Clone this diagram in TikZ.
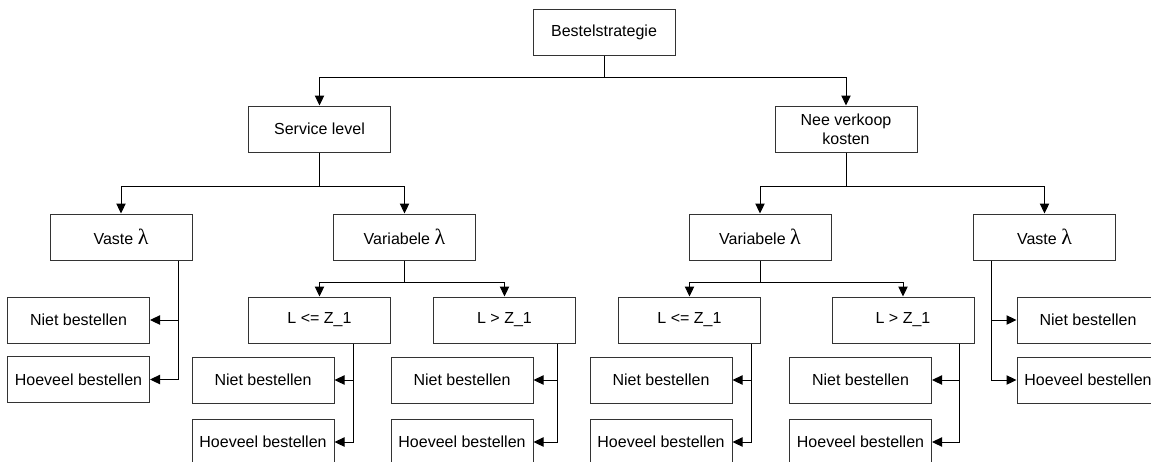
\documentclass[tikz,border=0pt]{standalone}
\usepackage{fontspec}
\setmainfont{Liberation Sans}
\newfontfamily\lamfont{Liberation Serif}
\usetikzlibrary{calc}
\usetikzlibrary{positioning}
\usetikzlibrary{arrows.meta}

\newcommand{\lam}{{\lamfont\fontsize{16.5}{14}\selectfont λ}}

\begin{document}
\begin{tikzpicture}[x=0.75pt, y=-0.75pt, line width=0.75pt,
        blok/.style={draw=black!80, minimum width=106.5pt,
            minimum height=34.5pt, inner sep=0pt, align=center,
            font=\fontsize{12}{14}\selectfont},
        arr/.style={-{Triangle[length=7.5pt, width=7pt]}}]
            \useasboundingbox (0,0) rectangle (1151,461);
            \clip (0,0) rectangle (1151,461);

            % Top level
            \node[blok] (top) at (604,32) {Bestelstrategie};
            \node[blok] (svc) at (319.5,129) {Service level};
            \node[blok] (nee) at (846,129) {Nee verkoop\\kosten};

            % Second level
            \node[blok] (vl) at (121,237) {Vaste \lam};
            \node[blok] (varl) at (404.5,237) {Variabele \lam};
            \node[blok] (varr) at (760,237) {Variabele \lam};
            \node[blok] (vr) at (1044.5,237) {Vaste \lam};

            % Conditions on L
            \node[blok] (le1) at (319.5,320) {L <= Z\_1};
            \node[blok] (gt1) at (504.5,320) {L > Z\_1};
            \node[blok] (le2) at (689.5,320) {L <= Z\_1};
            \node[blok] (gt2) at (903,320) {L > Z\_1};

            % Leaves
            \node[blok] (n1) at (78.5,320) {Niet bestellen};
            \node[blok] (h1) at (78.5,379.5) {Hoeveel bestellen};
            \node[blok] (n2) at (263,380) {Niet bestellen};
            \node[blok] (h2) at (263,442) {Hoeveel bestellen};
            \node[blok] (n3) at (462,380) {Niet bestellen};
            \node[blok] (h3) at (462,442) {Hoeveel bestellen};
            \node[blok] (n4) at (661,380) {Niet bestellen};
            \node[blok] (h4) at (661,442) {Hoeveel bestellen};
            \node[blok] (n5) at (860.5,380) {Niet bestellen};
            \node[blok] (h5) at (860.5,442) {Hoeveel bestellen};
            \node[blok] (n6) at (1088,320) {Niet bestellen};
            \node[blok] (h6) at (1088,380) {Hoeveel bestellen};

            % Tree branches
            \coordinate (j0) at ($(top.south)+(0,22)$);
            \draw (top.south) -- (j0);
            \draw[arr] (j0) -| (svc.north);
            \draw[arr] (j0) -| (nee.north);

            \coordinate (j1) at ($(svc.south)+(0,34)$);
            \draw (svc.south) -- (j1);
            \draw[arr] (j1) -| (vl.north);
            \draw[arr] (j1) -| (varl.north);

            \coordinate (j2) at ($(nee.south)+(0,34)$);
            \draw (nee.south) -- (j2);
            \draw[arr] (j2) -| (varr.north);
            \draw[arr] (j2) -| (vr.north);

            \coordinate (j3) at ($(varl.south)+(0,22)$);
            \draw (varl.south) -- (j3);
            \draw[arr] (j3) -| (le1.north);
            \draw[arr] (j3) -| (gt1.north);

            \coordinate (j4) at ($(varr.south)+(0,22)$);
            \draw (varr.south) -- (j4);
            \draw[arr] (j4) -| (le2.north);
            \draw[arr] (j4) -| (gt2.north);

            % Side branches to the leaves
            \coordinate (b1) at ($(vl.south)+(57,0)$);
            \draw[arr] (b1) |- (n1.east);
            \draw[arr] (b1) |- (h1.east);

            \coordinate (b2) at ($(le1.south)+(33.5,0)$);
            \draw[arr] (b2) |- (n2.east);
            \draw[arr] (b2) |- (h2.east);

            \coordinate (b3) at ($(gt1.south)+(52.5,0)$);
            \draw[arr] (b3) |- (n3.east);
            \draw[arr] (b3) |- (h3.east);

            \coordinate (b4) at ($(le2.south)+(61.5,0)$);
            \draw[arr] (b4) |- (n4.east);
            \draw[arr] (b4) |- (h4.east);

            \coordinate (b5) at ($(gt2.south)+(56,0)$);
            \draw[arr] (b5) |- (n5.east);
            \draw[arr] (b5) |- (h5.east);

            \coordinate (b6) at ($(vr.south)+(-53.5,0)$);
            \draw[arr] (b6) |- (n6.west);
            \draw[arr] (b6) |- (h6.west);
        \end{tikzpicture}
\end{document}
